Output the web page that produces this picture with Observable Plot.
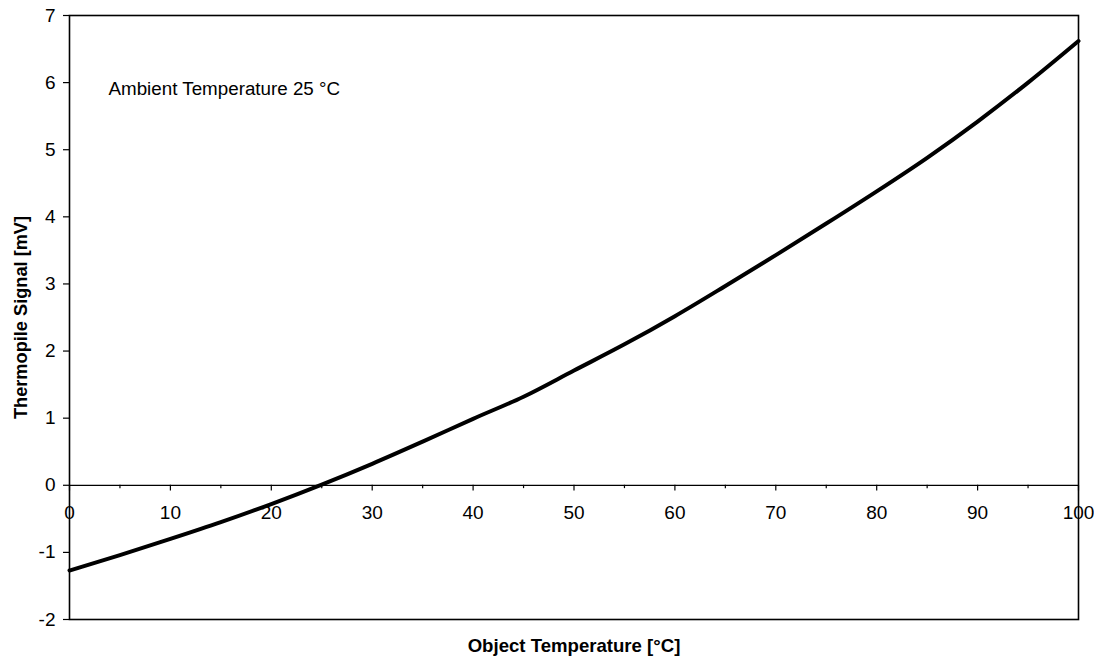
<!DOCTYPE html>
<html>
<head>
<meta charset="utf-8">
<script src="https://cdn.jsdelivr.net/npm/d3@7"></script>
<script src="https://cdn.jsdelivr.net/npm/@observablehq/plot@0.6"></script>
<style>
  html, body { margin: 0; padding: 0; background: #fff; }
  #chart { width: 1094px; height: 661px; }
</style>
</head>
<body>
<div id="chart"></div>
<script>
const temps = [0, 5, 10, 15, 20, 25, 30, 35, 40, 45, 50, 55, 60, 65, 70, 75, 80, 85, 90, 95, 100];
const signal = [-1.27, -1.04, -0.80, -0.55, -0.28, 0.01, 0.32, 0.65, 0.99, 1.32, 1.71, 2.10, 2.52, 2.97, 3.43, 3.90, 4.38, 4.88, 5.42, 6.00, 6.62];
const xMajorTicks = [0, 10, 20, 30, 40, 50, 60, 70, 80, 90, 100];
const xMinorTicks = [5, 15, 25, 35, 45, 55, 65, 75, 85, 95];
const yTicks = [-2, -1, 0, 1, 2, 3, 4, 5, 6, 7];
const xLabel = "Object Temperature [°C]";
const yLabel = "Thermopile Signal [mV]";
const annotation = "Ambient Temperature 25 °C";

const data = temps.map((t, i) => ({t, v: signal[i]}));

const chart = Plot.plot({
  width: 1094,
  height: 661,
  marginLeft: 69,
  marginRight: 16,
  marginTop: 15,
  marginBottom: 42,
  style: {fontFamily: "'Liberation Sans', Arial, sans-serif", color: "black", background: "white"},
  x: {domain: [0, 100], axis: null},
  y: {domain: [-2, 7], axis: null},
  marks: [
    Plot.ruleY([0], {stroke: "black", strokeWidth: 1.3}),
    Plot.ruleX(xMajorTicks, {x: d => d, y1: 0, y2: -0.085, stroke: "black", strokeWidth: 1.2}),
    Plot.ruleX(xMinorTicks, {x: d => d, y1: 0, y2: -0.05, stroke: "black", strokeWidth: 1.2}),
    Plot.text(xMajorTicks, {x: d => d, y: 0, dy: 28, text: d => String(d), fontSize: 19, fill: "black"}),
    Plot.axisY({ticks: yTicks, tickFormat: d => String(d), tickSize: 6, tickPadding: 8, fontSize: 19, label: null, stroke: "black", strokeWidth: 1.2}),
    Plot.frame({stroke: "black", strokeWidth: 1.6}),
    Plot.line(data, {x: "t", y: "v", stroke: "black", strokeWidth: 4, curve: "monotone-x"}),
    Plot.text([annotation], {frameAnchor: "top-left", dx: 39, dy: 66, textAnchor: "start", fontSize: 18.8, fill: "black"}),
    Plot.text([xLabel], {frameAnchor: "bottom", dy: 32, fontSize: 18.6, fontWeight: "bold", fill: "black"}),
    Plot.text([yLabel], {frameAnchor: "left", dx: -48, rotate: -90, textAnchor: "middle", fontSize: 18.2, fontWeight: "bold", fill: "black"})
  ]
});
document.getElementById("chart").appendChild(chart);
</script>
</body>
</html>
